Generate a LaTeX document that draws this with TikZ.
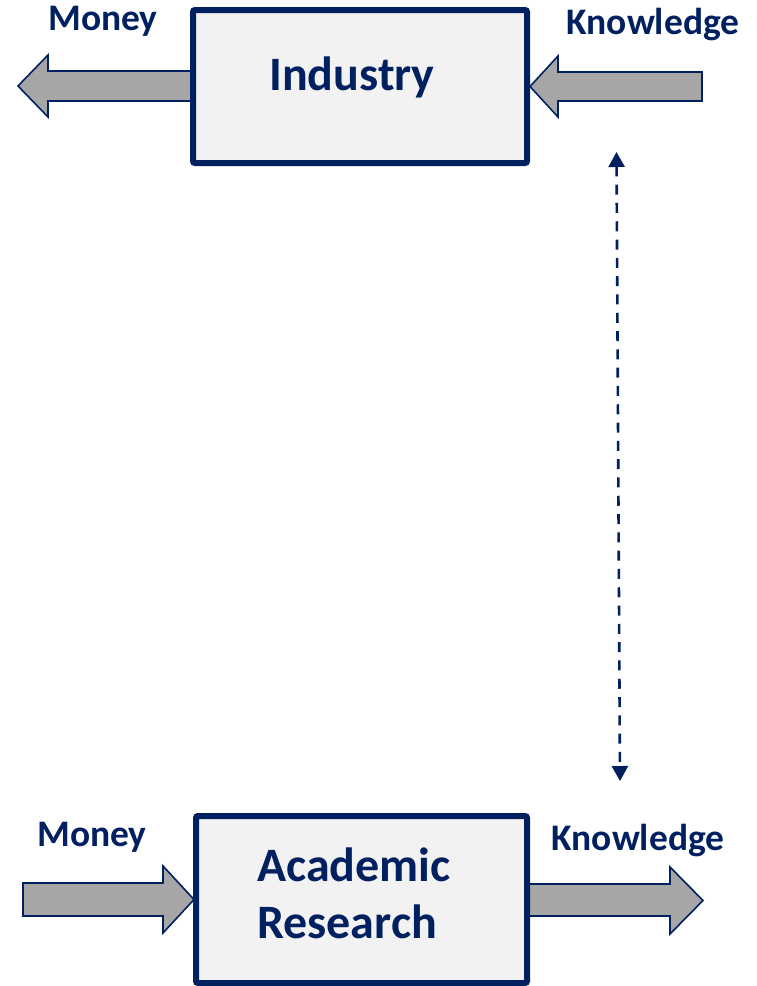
\documentclass[tikz,border=0pt]{standalone}
\usepackage{fontspec}
\setmainfont{Carlito}
\usetikzlibrary{arrows.meta}
\definecolor{navy}{HTML}{002060}
\definecolor{arrowgray}{HTML}{A6A6A6}
\definecolor{boxfill}{HTML}{F2F2F2}
\tikzset{
  blockarrow/.style={draw=navy, fill=arrowgray, line width=1.6pt, line join=miter},
  mainbox/.style={draw=navy, fill=boxfill, line width=6pt, rounded corners=2pt},
  boxtext/.style={text=navy, font=\fontsize{48}{57}\selectfont\bfseries, align=center, inner sep=0pt},
  flowlabel/.style={text=navy, font=\fontsize{37.5}{44}\selectfont\bfseries, inner sep=0pt},
  linkline/.style={draw=navy, line width=2.6pt, dash pattern=on 10pt off 8.3pt, {Triangle[length=15pt,width=16pt]}-{Triangle[length=15pt,width=16pt]}}
}
\begin{document}
\begin{tikzpicture}[x=1pt,y=-1pt]
\useasboundingbox (0,0) rectangle (757,986);
% top arrows
\draw[blockarrow] (192,71) -- (48,71) -- (48,55) -- (18,86) -- (48,117) -- (48,101) -- (192,101);
\draw[blockarrow] (702,72) -- (558,72) -- (558,56) -- (530,86.5) -- (558,117) -- (558,101) -- (702,101) -- cycle;
% top box
\draw[mainbox] (193,10) rectangle (527,163);
\node[boxtext] (industry) at (352,77) {Industry};
\node[flowlabel] (moneytop) at (103,21) {Money};
\node[flowlabel] (knowtop) at (653,25) {Knowledge};
% bottom arrows
\draw[blockarrow] (23,883) -- (163,883) -- (163,866) -- (194,899.5) -- (163,933) -- (163,916) -- (23,916) -- cycle;
\draw[blockarrow] (529,884) -- (670,884) -- (670,867) -- (703,900.5) -- (670,934) -- (670,916) -- (529,916);
% bottom box
\draw[mainbox] (196,816) rectangle (527,983);
\node[boxtext, align=left, anchor=west] (academic) at (257,893) {Academic\\Research};
\node[flowlabel] (moneybot) at (92,837) {Money};
\node[flowlabel] (knowbot) at (638,841) {Knowledge};
% dashed link
\coordinate (linktop) at (616.5,152);
\coordinate (linkbot) at (620,781);
\draw[linkline] (linktop) -- (linkbot);
\end{tikzpicture}
\end{document}
